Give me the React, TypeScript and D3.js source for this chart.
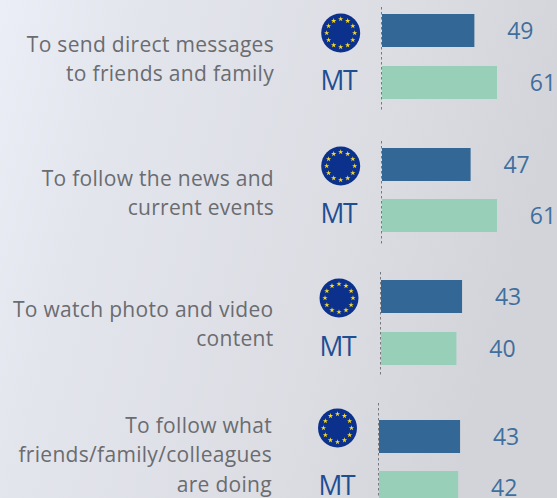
import React from "react";
import * as d3 from "d3";

const categories = [
  ["To send direct messages", "to friends and family"],
  ["To follow the news and", "current events"],
  ["To watch photo and video", "content"],
  ["To follow what", "friends/family/colleagues", "are doing"],
];
const euValues = [49, 47, 43, 43];
const mtValues = [61, 61, 40, 42];
const countryLabel = "MT";

// Layout of each panel (the source picture drifts slightly from panel to panel)
const axisX = [382, 382, 381, 379];
const euTop = [14, 148, 280, 420];
const mtTop = [66, 199, 332, 471];
const ruleSpan = [[7, 110], [141, 245], [272, 376], [403, 498]];
const flagCentre = [[340.7, 33], [340.7, 166], [339, 298], [337.5, 428]];
const labelRight = [274, 274, 273.5, 272];
const labelFirstBase = [52, 186, 317, 433];
const mtLabelX = [320.5, 320.5, 319.5, 318.5];
const lineGap = 29.3;
const barH = 33;

const x = d3.scaleLinear().domain([0, 61]).range([0, 115]);
const star = d3.symbol(d3.symbolStar, 9)() as string;
const starAngles = d3.range(12).map((i) => (i * Math.PI) / 6);

const font = "'Open Sans', sans-serif";

function Flag({ cx, cy }: { cx: number; cy: number }) {
  return (
    <g transform={`translate(${cx},${cy})`}>
      <circle r={19.5} fill="#0c318c" />
      {starAngles.map((a, i) => (
        <path key={i} d={star} fill="#f6d927" transform={`translate(${14 * Math.sin(a)},${-14 * Math.cos(a)})`} />
      ))}
    </g>
  );
}

export default function App() {
  return (
    <svg width={557} height={498} viewBox="0 0 557 498" style={{ position: "absolute", left: 0, top: 0, display: "block" }}>
      <defs>
        <linearGradient id="bg" x1="0" y1="0" x2="1" y2="0.25">
          <stop offset="0" stopColor="#eceef7" />
          <stop offset="0.25" stopColor="#e3e5ed" />
          <stop offset="0.7" stopColor="#dcdde3" />
          <stop offset="1" stopColor="#d3d4da" />
        </linearGradient>
      </defs>
      <rect width={557} height={498} fill="url(#bg)" />
      {categories.map((lines, i) => (
        <g key={i}>
          <text textAnchor="end" fontFamily={font} fontSize={21} fill="#6a6c70" letterSpacing={0.3}>
            {lines.map((l, j) => (
              <tspan key={j} x={labelRight[i]} y={labelFirstBase[i] + j * lineGap}>{l}</tspan>
            ))}
          </text>
          <Flag cx={flagCentre[i][0]} cy={flagCentre[i][1]} />
          <text x={mtLabelX[i]} y={mtTop[i] + 24} fontFamily={font} fontSize={26.5} fill="#1f4e93" letterSpacing={-1.3}>{countryLabel}</text>
          <line x1={axisX[i] - 0.5} x2={axisX[i] - 0.5} y1={ruleSpan[i][0]} y2={ruleSpan[i][1]} stroke="#77797e" strokeWidth={1} strokeDasharray="2.5 2.5" />
          <rect x={axisX[i]} y={euTop[i]} width={x(euValues[i])} height={barH} fill="#336795" />
          <rect x={axisX[i]} y={mtTop[i]} width={x(mtValues[i])} height={barH} fill="#97cfb9" />
          <text x={axisX[i] + x(euValues[i]) + 46} y={euTop[i] + 25} textAnchor="middle" fontFamily={font} fontSize={23} fill="#3f6f9e">{euValues[i]}</text>
          <text x={axisX[i] + x(mtValues[i]) + 46} y={mtTop[i] + 25} textAnchor="middle" fontFamily={font} fontSize={23} fill="#3f6f9e">{mtValues[i]}</text>
        </g>
      ))}
    </svg>
  );
}
